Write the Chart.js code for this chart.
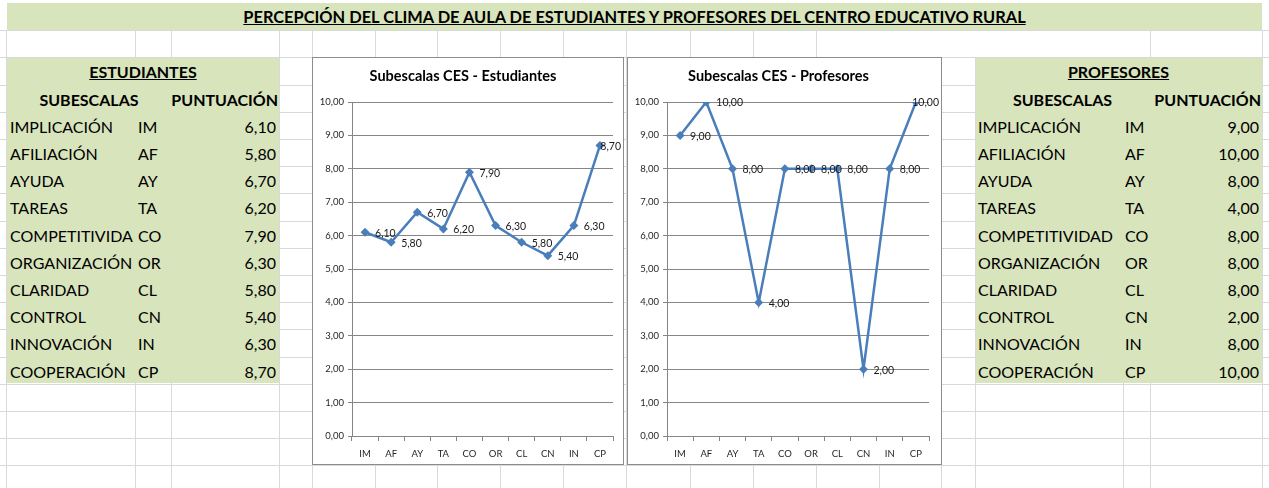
<!DOCTYPE html>
<html>
<head>
<meta charset="utf-8">
<script src="https://cdn.jsdelivr.net/npm/chart.js@4"></script>
<style>
  body { margin: 0; width: 1269px; height: 488px; overflow: hidden; background: #fff; position: relative; font-family: Lato, sans-serif; }
  .vl { position: absolute; width: 1px; background: #d9d9d9; }
  .hl { position: absolute; height: 1px; background: #d9d9d9; left: 0; width: 1269px; }
  .green { position: absolute; background: #d8e4bc; }
  .blank { position: absolute; background: #fff; }
  .cell { position: absolute; white-space: nowrap; overflow: hidden; color: #000; font-size: 16px; height: 27px; line-height: 29px; }
  .b { font-weight: bold; }
  .u { text-decoration: underline; }
  .box { position: absolute; background: #fff; border: 1px solid #8c8c8c; box-sizing: border-box; }
  .box canvas { position: absolute; left: 0; top: 0; }
</style>
</head>
<body>
<div id="sheet"></div>
<div class="box" style="left:312px;top:57px;width:312px;height:408px"><canvas id="chartEst" width="310" height="406"></canvas></div>
<div class="box" style="left:627px;top:57px;width:315px;height:408px"><canvas id="chartProf" width="313" height="406"></canvas></div>
<script>
const titulo = 'PERCEPCIÓN DEL CLIMA DE AULA DE ESTUDIANTES Y PROFESORES DEL CENTRO EDUCATIVO RURAL';
const codigos = ['IM', 'AF', 'AY', 'TA', 'CO', 'OR', 'CL', 'CN', 'IN', 'CP'];
const nombresEst = ['IMPLICACIÓN', 'AFILIACIÓN', 'AYUDA', 'TAREAS', 'COMPETITIVIDA', 'ORGANIZACIÓN', 'CLARIDAD', 'CONTROL', 'INNOVACIÓN', 'COOPERACIÓN'];
const nombresProf = ['IMPLICACIÓN', 'AFILIACIÓN', 'AYUDA', 'TAREAS', 'COMPETITIVIDAD', 'ORGANIZACIÓN', 'CLARIDAD', 'CONTROL', 'INNOVACIÓN', 'COOPERACIÓN'];
const estudiantes = [6.1, 5.8, 6.7, 6.2, 7.9, 6.3, 5.8, 5.4, 6.3, 8.7];
const profesores = [9, 10, 8, 4, 8, 8, 8, 2, 8, 10];

const fmt = v => v.toFixed(2).replace('.', ',');

// spreadsheet background
const sheet = document.getElementById('sheet');
const add = (cls, style, text) => {
  const d = document.createElement('div');
  d.className = cls;
  Object.assign(d.style, style);
  if (text !== undefined) d.textContent = text;
  sheet.appendChild(d);
  return d;
};
const colX = [6, 135, 171, 279, 312, 375, 437, 500, 563, 626, 690, 753, 816, 879, 941, 975, 1123, 1150, 1262];
const rowTop = n => 30.1 + 27.2 * n; // n = 0 -> first row under the title
colX.forEach(x => add('vl', { left: x + 'px', top: '30px', height: '458px' }));
for (let n = 0; n < 17; n++) add('hl', { top: Math.round(rowTop(n)) + 'px' });

add('green', { left: '7px', top: '3px', width: '1255px', height: '27px' });
add('blank', { left: '817px', top: '31px', width: '332px', height: '26px' });
add('green', { left: '7px', top: '58px', width: '272px', height: '325px' });
add('green', { left: '976px', top: '58px', width: '286px', height: '325px' });

add('cell b u', { left: '7px', top: '2px', width: '1255px', textAlign: 'center', fontSize: '16.4px' }, titulo);

const tabla = (x0, xCode, xRight, xHead, nombres, valores, cabecera) => {
  const top = n => Math.round(rowTop(n)) + 'px';
  add('cell b u', { left: x0 + 'px', top: top(1), width: (xRight - x0) + 'px', textAlign: 'center' }, cabecera);
  add('cell b', { left: x0 + 'px', top: top(2), width: (xHead - x0) + 'px', textAlign: 'center' }, 'SUBESCALAS');
  add('cell b', { left: xHead + 'px', top: top(2), width: (xRight - xHead - 1) + 'px', textAlign: 'right' }, 'PUNTUACIÓN');
  nombres.forEach((nom, i) => {
    add('cell', { left: (x0 + 3) + 'px', top: top(3 + i), width: (xCode - x0 - 4) + 'px' }, nom);
    add('cell', { left: xCode + 'px', top: top(3 + i), width: '40px' }, codigos[i]);
    add('cell', { left: (xRight - 81) + 'px', top: top(3 + i), width: '78px', textAlign: 'right' }, fmt(valores[i]));
  });
};
tabla(7, 138, 279, 171, nombresEst, estudiantes, 'ESTUDIANTES');
tabla(975, 1125, 1262, 1150, nombresProf, profesores, 'PROFESORES');

// value labels next to each marker
const valueLabels = {
  id: 'valueLabels',
  afterDatasetsDraw(chart) {
    const ctx = chart.ctx;
    const meta = chart.getDatasetMeta(0);
    const data = chart.data.datasets[0].data;
    ctx.save();
    ctx.font = '10.5px Lato';
    ctx.fillStyle = '#1a1a1a';
    ctx.textBaseline = 'middle';
    meta.data.forEach((pt, i) => {
      const txt = fmt(data[i]);
      const w = ctx.measureText(txt).width;
      let x = pt.x + 10;
      if (x + w > chart.width - 2) x = chart.width - 2 - w;
      ctx.fillText(txt, x, pt.y + 1);
    });
    ctx.restore();
  }
};

const makeChart = (id, title, values, rightPad) => new Chart(document.getElementById(id), {
  type: 'line',
  data: {
    labels: codigos,
    datasets: [{
      data: values,
      borderColor: '#4a7ebb',
      backgroundColor: '#4a7ebb',
      borderWidth: 2.5,
      tension: 0,
      pointStyle: 'rectRot',
      pointRadius: 4.5,
      pointBorderWidth: 0,
      pointBackgroundColor: '#4a7ebb'
    }]
  },
  options: {
    responsive: false,
    animation: false,
    devicePixelRatio: 1,
    layout: { padding: { left: 0, right: rightPad, top: 0, bottom: 0 } },
    plugins: {
      legend: { display: false },
      tooltip: { enabled: false },
      title: {
        display: true,
        text: title,
        color: '#000',
        font: { family: 'Lato', size: 14.5, weight: 'bold' },
        padding: { top: 10, bottom: 16.6 }
      }
    },
    scales: {
      x: {
        offset: true,
        grid: { offset: true, drawOnChartArea: false, drawTicks: true, tickLength: 5, color: '#868686' },
        border: { color: '#868686' },
        ticks: { autoSkip: false, maxRotation: 0, padding: 7, color: '#262626', font: { family: 'Lato', size: 9.5 } },
        afterFit: s => { s.height = 28; }
      },
      y: {
        min: 0,
        max: 10,
        grid: { color: '#868686', tickLength: 4 },
        border: { color: '#868686' },
        ticks: { stepSize: 1, padding: 4, color: '#262626', font: { family: 'Lato', size: 9.5 }, callback: v => fmt(v) },
        afterFit: s => { s.width = 39; }
      }
    }
  },
  plugins: [valueLabels]
});

makeChart('chartEst', 'Subescalas CES - Estudiantes', estudiantes, 10);
makeChart('chartProf', 'Subescalas CES - Profesores', profesores, 12);
</script>
</body>
</html>
